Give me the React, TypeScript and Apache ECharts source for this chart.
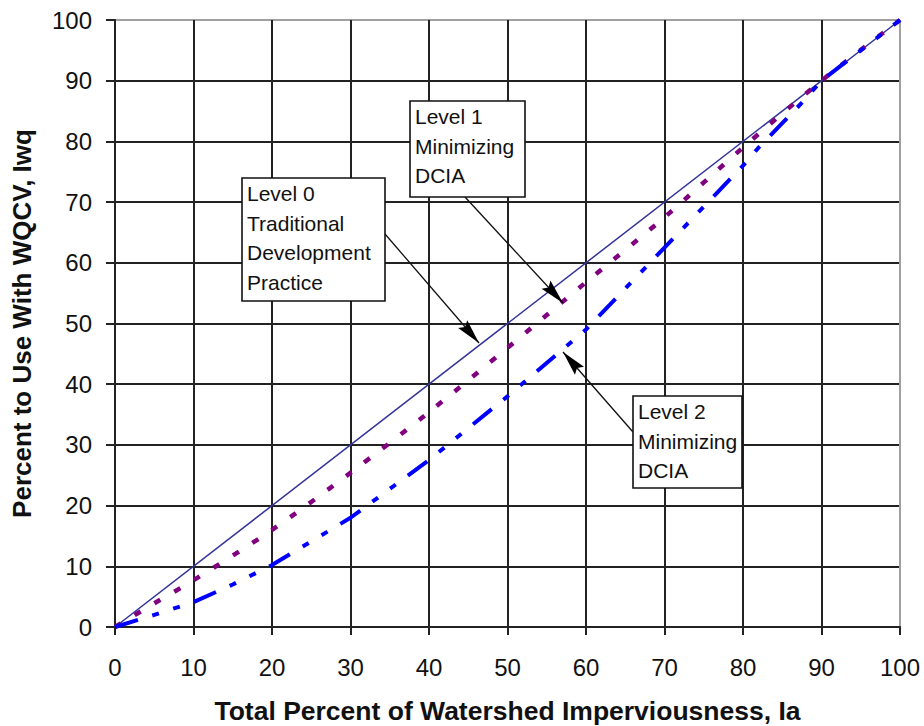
import React, { useEffect, useRef } from "react";
import * as echarts from "echarts";

const xTicks = [0, 10, 20, 30, 40, 50, 60, 70, 80, 90, 100];
const level0 = [[0, 0], [100, 100]];
const level1 = [
  [0, 0], [5, 3.9], [10, 7.7], [20, 16], [30, 25.4], [40, 35.4], [50, 46],
  [60, 56.8], [70, 67.5], [80, 79], [90, 90], [100, 100],
];
const level2 = [
  [0, 0], [5, 2], [10, 4.1], [15, 7], [20, 10.2], [30, 18], [40, 27.5], [50, 38],
  [60, 49], [70, 62.5], [80, 76], [82, 79], [85, 83], [87.6, 86.5], [90, 90], [100, 100],
];
const xTitle = "Total Percent of Watershed Imperviousness, Ia";
const yTitle = "Percent to Use With WQCV, Iwq";
const notes = [
  { text: "Level 0\nTraditional\nDevelopment\nPractice", box: [242, 178, 143, 123], from: [385, 234], to: [479, 343] },
  { text: "Level 1\nMinimizing\nDCIA", box: [410, 101, 115, 96], from: [465, 197], to: [563, 303] },
  { text: "Level 2\nMinimizing\nDCIA", box: [633, 396, 109, 92], from: [633, 432], to: [563, 352] },
];

function arrowHead(from: number[], to: number[], len: number, hw: number) {
  const dx = to[0] - from[0];
  const dy = to[1] - from[1];
  const d = Math.hypot(dx, dy);
  const ux = dx / d, uy = dy / d;
  const bx = to[0] - ux * len, by = to[1] - uy * len;
  const nx = -uy, ny = ux;
  return [
    [to[0], to[1]],
    [bx + nx * hw, by + ny * hw],
    [to[0] - ux * len * 0.85, to[1] - uy * len * 0.85],
    [bx - nx * hw, by - ny * hw],
  ];
}

export default function App() {
  const ref = useRef<HTMLDivElement>(null);
  useEffect(() => {
    const chart = echarts.init(ref.current!, null, { renderer: "svg" });
    const gridColors = xTicks.map((_, i) => (i === xTicks.length - 1 ? "#a0a0a0" : "#222"));
    const graphic: any[] = [];
    notes.forEach((n) => {
      graphic.push({
        type: "line",
        shape: { x1: n.from[0], y1: n.from[1], x2: n.to[0], y2: n.to[1] },
        style: { stroke: "#111", lineWidth: 1.3 },
        z: 10,
      });
      graphic.push({
        type: "polygon",
        shape: { points: arrowHead(n.from, n.to, 25, 6) },
        style: { fill: "#000" },
        z: 10,
      });
      graphic.push({
        type: "rect",
        shape: { x: n.box[0], y: n.box[1], width: n.box[2], height: n.box[3] },
        style: { fill: "#fff", stroke: "#111", lineWidth: 1.6 },
        z: 11,
      });
      graphic.push({
        type: "text",
        x: n.box[0] + 5,
        y: n.box[1] + 1,
        style: {
          text: n.text,
          font: '21px "Liberation Sans", Arial, sans-serif',
          fill: "#111",
          lineHeight: 29.5,
          verticalAlign: "top",
          align: "left",
        },
        z: 12,
      });
    });
    chart.setOption({
      animation: false,
      backgroundColor: "#fff",
      grid: { left: 115, right: 24, top: 20, bottom: 99, containLabel: false, outerBoundsMode: "none" },
      xAxis: {
        type: "value",
        min: 0,
        max: 100,
        interval: 10,
        name: xTitle,
        nameLocation: "middle",
        nameGap: 70,
        nameTextStyle: { fontFamily: '"Liberation Sans", Arial', fontWeight: "bold", fontSize: 26.5, color: "#111" },
        axisLine: { show: true, lineStyle: { color: "#222", width: 2 } },
        axisTick: { show: true, length: 8, lineStyle: { color: "#222", width: 2 } },
        axisLabel: { margin: 28, fontFamily: '"Liberation Sans", Arial', fontSize: 24, color: "#111", verticalAlign: "top" },
        splitLine: { show: true, lineStyle: { color: gridColors, width: 2 } },
      },
      yAxis: {
        type: "value",
        min: 0,
        max: 100,
        interval: 10,
        name: yTitle,
        nameLocation: "middle",
        nameGap: 80,
        nameRotate: 90,
        nameTextStyle: { fontFamily: '"Liberation Sans", Arial', fontWeight: "bold", fontSize: 26, color: "#111" },
        axisLine: { show: true, lineStyle: { color: "#222", width: 2 } },
        axisTick: { show: true, length: 9, lineStyle: { color: "#222", width: 2 } },
        axisLabel: { margin: 23, fontFamily: '"Liberation Sans", Arial', fontSize: 24, color: "#111" },
        splitLine: { show: true, lineStyle: { color: gridColors, width: 2 } },
      },
      series: [
        {
          type: "line",
          name: "Level 0",
          data: level0,
          symbol: "none",
          lineStyle: { color: "#33339a", width: 1.5 },
          z: 3,
        },
        {
          type: "line",
          name: "Level 1",
          data: level1,
          symbol: "none",
          smooth: 0.3,
          lineStyle: { color: "#800080", width: 4.5, type: [7, 16] },
          z: 4,
        },
        {
          type: "line",
          name: "Level 2",
          data: level2,
          symbol: "none",
          lineStyle: { color: "#0000ff", width: 4, type: [24, 15, 7, 15, 7, 15] },
          z: 4,
        },
      ],
      graphic,
    });
    return () => chart.dispose();
  }, []);
  return (
    <div
      ref={ref}
      style={{ position: "fixed", left: 0, top: 0, width: 924, height: 726, background: "#fff" }}
    />
  );
}
